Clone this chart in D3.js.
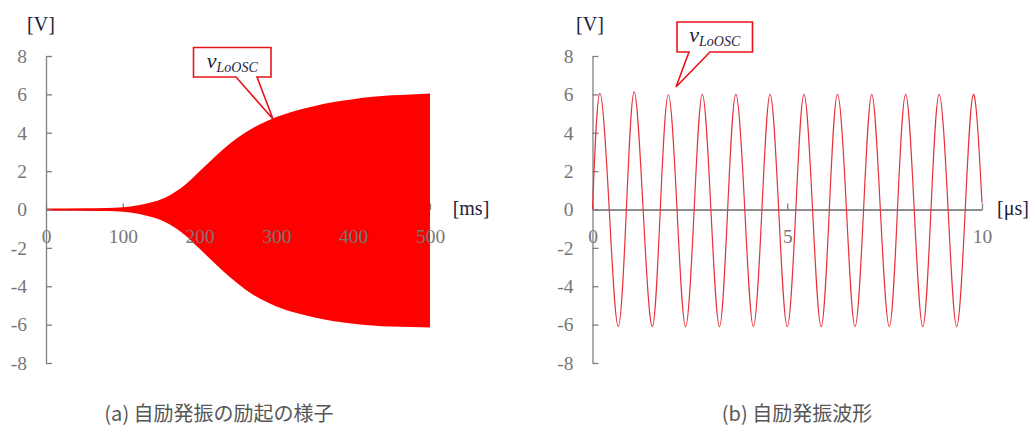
<!DOCTYPE html>
<html>
<head>
<meta charset="utf-8">
<script src="https://cdn.jsdelivr.net/npm/d3@7"></script>
<style>
  body { margin: 0; background: #fff; }
  svg { display: block; }
</style>
</head>
<body>
<div id="chart"></div>
<script>
// (a) envelope of the build-up [ms] -> [V]
const envTime  = [0, 50, 80, 100, 120, 140, 160, 180, 200, 220, 240, 260, 280, 300, 325, 350, 375, 400, 425, 450, 475, 500]
const envUpper = [0.05, 0.06, 0.08, 0.12, 0.22, 0.4, 0.72, 1.25, 2.0, 2.75, 3.45, 4.02, 4.47, 4.82, 5.15, 5.4, 5.6, 5.75, 5.87, 5.95, 6.0, 6.05]
const envLower = [-0.05, -0.06, -0.08, -0.12, -0.22, -0.42, -0.76, -1.3, -2.05, -2.82, -3.55, -4.18, -4.68, -5.05, -5.38, -5.63, -5.83, -5.95, -6.04, -6.1, -6.12, -6.15]

// (b) waveform: peaks, troughs and zero crossings [us] -> [V]
const waveTime = [0, 0.19, 0.43, 0.66, 0.87, 1.07, 1.30, 1.535, 1.74, 1.947, 2.17, 2.39, 2.61, 2.82, 3.04, 3.26, 3.47, 3.68,
  3.91, 4.13, 4.35, 4.56, 4.78, 5.0, 5.22, 5.43, 5.65, 5.87, 6.08, 6.29, 6.52, 6.74, 6.96, 7.17, 7.39, 7.62, 7.83, 8.04,
  8.26, 8.48, 8.69, 8.90, 9.13, 9.35, 9.57, 9.78, 10]
const waveValue = [0, 6.05, 0, -6.1, 0, 6.13, 0, -6.1, 0, 5.98, 0, -6.1, 0, 6.0, 0, -6.1, 0, 6.0,
  0, -6.1, 0, 6.0, 0, -6.1, 0, 6.0, 0, -6.1, 0, 6.0, 0, -6.1, 0, 6.0, 0, -6.1, 0, 6.0,
  0, -6.1, 0, 6.0, 0, -6.1, 0, 6.0, 0.35]

const yTicks = [-8, -6, -4, -2, 0, 2, 4, 6, 8]
const xTicksA = [0, 100, 200, 300, 400, 500]
const xTicksB = [0, 5, 10]

const width = 1033, height = 428
const axisColor = "#7f7f7f"
const tickTextColor = "#767676"
const labelColor = "#1c1c3c"
const red = "#ff0000"
const serif = "'Liberation Serif', 'DejaVu Serif', serif"

const svg = d3.select("#chart").append("svg")
  .attr("width", width)
  .attr("height", height)
  .attr("viewBox", `0 0 ${width} ${height}`)

const y = d3.scaleLinear().domain([-8, 8]).range([363, 56])
const xA = d3.scaleLinear().domain([0, 500]).range([46, 430])
const xB = d3.scaleLinear().domain([0, 10]).range([592.5, 982])

const styleAxis = g => {
  g.selectAll("path.domain").attr("stroke", axisColor).attr("stroke-width", 1.3)
  g.selectAll(".tick line").attr("stroke", axisColor).attr("stroke-width", 1.3)
  g.selectAll(".tick text")
    .attr("fill", tickTextColor)
    .style("font-family", serif)
    .style("font-size", "19.5px")
}

const drawYAxis = x0 => {
  const g = svg.append("g")
    .attr("transform", `translate(${x0},0)`)
    .call(d3.axisLeft(y).tickValues(yTicks).tickSize(-6).tickSizeOuter(0).tickPadding(19).tickFormat(d => String(d)))
  styleAxis(g)
}

const xAxisGen = (scale, ticks) => d3.axisBottom(scale).tickValues(ticks).tickSize(-6).tickSizeOuter(0).tickPadding(20).tickFormat(d => String(d))

// ---- (a) ----
const gA = svg.append("g")
  .attr("transform", `translate(0,${y(0)})`)
  .call(xAxisGen(xA, xTicksA))
styleAxis(gA)
gA.selectAll(".tick text").remove()

const env = envTime.map((t, i) => ({ t, hi: envUpper[i], lo: envLower[i] }))
const area = d3.area()
  .x(d => xA(d.t))
  .y0(d => y(d.lo))
  .y1(d => y(d.hi))
  .curve(d3.curveMonotoneX)

svg.append("path")
  .datum(env)
  .attr("d", area)
  .attr("fill", red)

// tick labels above the filled area
const gAtxt = svg.append("g")
  .attr("transform", `translate(0,${y(0)})`)
  .call(xAxisGen(xA, xTicksA))
styleAxis(gAtxt)
gAtxt.selectAll("path.domain").remove()
gAtxt.selectAll(".tick line").remove()

drawYAxis(46)

// ---- (b) ----
const gB = svg.append("g")
  .attr("transform", `translate(0,${y(0)})`)
  .call(xAxisGen(xB, xTicksB))
styleAxis(gB)
gB.select("path.domain").attr("stroke", "#6a6a6a")

drawYAxis(592.5)

const wave = waveTime.map((t, i) => ({ t, v: waveValue[i] }))
svg.append("path")
  .datum(wave)
  .attr("d", d3.line().x(d => xB(d.t)).y(d => y(d.v)).curve(d3.curveNatural))
  .attr("fill", "none")
  .attr("stroke", "#e8323a")
  .attr("stroke-width", 1.2)

// unit labels
const unit = (x, yy, txt) => svg.append("text")
  .attr("x", x).attr("y", yy)
  .attr("text-anchor", "middle")
  .attr("fill", labelColor)
  .style("font-family", serif)
  .style("font-size", "20px")
  .text(txt)
unit(41, 31, "[V]")
unit(590, 31, "[V]")
unit(471, 215, "[ms]")
unit(1013, 215, "[μs]")

// callouts
const callout = (x0, y0, x1, y1, b0, b1, tx, ty) => {
  const p = d3.path()
  p.moveTo(x0, y0)
  p.lineTo(x1, y0)
  p.lineTo(x1, y1)
  p.lineTo(b1, y1)
  p.lineTo(tx, ty)
  p.lineTo(b0, y1)
  p.lineTo(x0, y1)
  p.closePath()
  svg.append("path")
    .attr("d", p.toString())
    .attr("fill", "#fff")
    .attr("stroke", "#e8141c")
    .attr("stroke-width", 1.6)
  const t = svg.append("text")
    .attr("x", (x0 + x1) / 2)
    .attr("y", y0 + 20)
    .attr("text-anchor", "middle")
    .attr("fill", labelColor)
    .style("font-family", serif)
    .style("font-style", "italic")
  t.append("tspan").style("font-size", "22px").text("v")
  t.append("tspan").attr("dy", 4).style("font-size", "14px").text("LoOSC")
}
callout(193.5, 47.5, 271, 77, 236, 257, 273, 119)
callout(677, 22, 752.5, 52, 689, 710, 676, 87)

// captions
const caption = (x, txt) => svg.append("text")
  .attr("x", x).attr("y", 421)
  .attr("text-anchor", "middle")
  .attr("fill", "#575757")
  .style("font-family", "'Noto Sans CJK JP', 'Noto Sans', sans-serif")
  .style("font-size", "20px")
  .text(txt)
caption(219, "(a) 自励発振の励起の様子")
caption(797, "(b) 自励発振波形")
</script>
</body>
</html>
